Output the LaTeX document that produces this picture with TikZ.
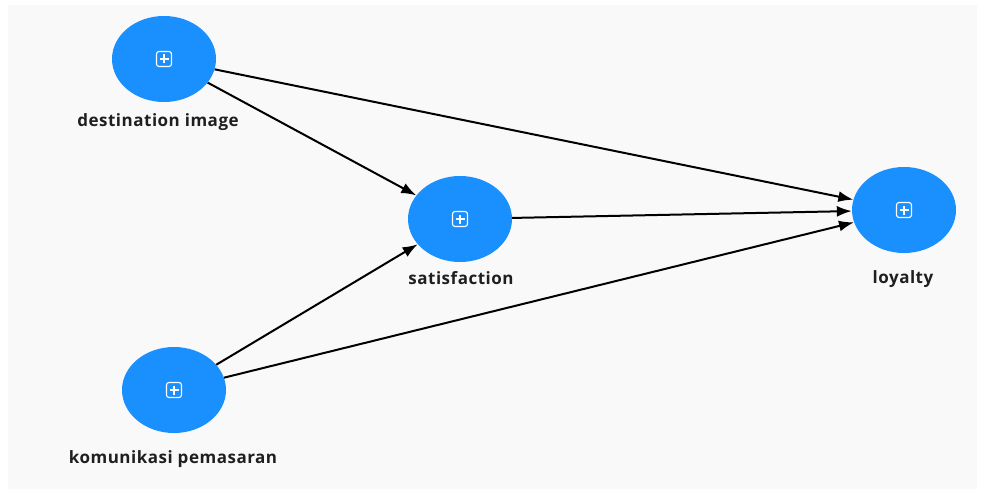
\documentclass[tikz,border=0pt]{standalone}
\usepackage{fontspec}
\setmainfont{Open Sans}[BoldFont={* Bold}]
\newfontfamily\lblfont{Open Sans Bold}[LetterSpace=3]
\usetikzlibrary{arrows.meta,calc,shapes.geometric}
\definecolor{nodeblue}{HTML}{1A90FF}
\definecolor{bggray}{HTML}{F9F9F9}
\tikzset{
  construct/.style={ellipse, fill=nodeblue, draw=none, minimum width=104pt, minimum height=86pt, inner sep=0pt},
  lbl/.style={font=\fontsize{17}{19}\lblfont, text=black!88, inner sep=0pt},
  path/.style={line width=2pt, black, -{Latex[length=15pt,width=11pt]}},
}
\newcommand{\plusicon}[1]{%
  \draw[white, line width=1.1pt, rounded corners=2.5pt] ($(#1)+(-7.5pt,-7.5pt)$) rectangle ($(#1)+(7.5pt,7.5pt)$);
  \draw[white, line width=1.1pt] ($(#1)+(-4.5pt,0)$) -- ($(#1)+(4.5pt,0)$) ($(#1)+(0,-4.5pt)$) -- ($(#1)+(0,4.5pt)$);
}
\begin{document}
\begin{tikzpicture}[x=1pt,y=-1pt]
\useasboundingbox (0,0) rectangle (984,492);
\fill[white] (0,0) rectangle (984,492);
\fill[bggray] (8,5) rectangle (977,489);
\node[construct] (di) at (164,59) {};
\node[construct] (sat) at (460,219) {};
\node[construct] (loy) at (904,210) {};
\node[construct] (kp) at (174,390) {};
\plusicon{di}
\plusicon{sat}
\plusicon{loy}
\plusicon{kp}
\node[lbl] (ldi) at (158,122) {destination image};
\node[lbl] (lsat) at (461,278) {satisfaction};
\node[lbl] (lloy) at (903,279) {loyalty};
\node[lbl] (lkp) at (173,459) {komunikasi pemasaran};
\draw[path] (di) -- (sat);
\draw[path] (di) -- (loy);
\draw[path] (sat) -- (loy);
\draw[path] (kp) -- (sat);
\draw[path] (kp) -- (loy);
\end{tikzpicture}
\end{document}
